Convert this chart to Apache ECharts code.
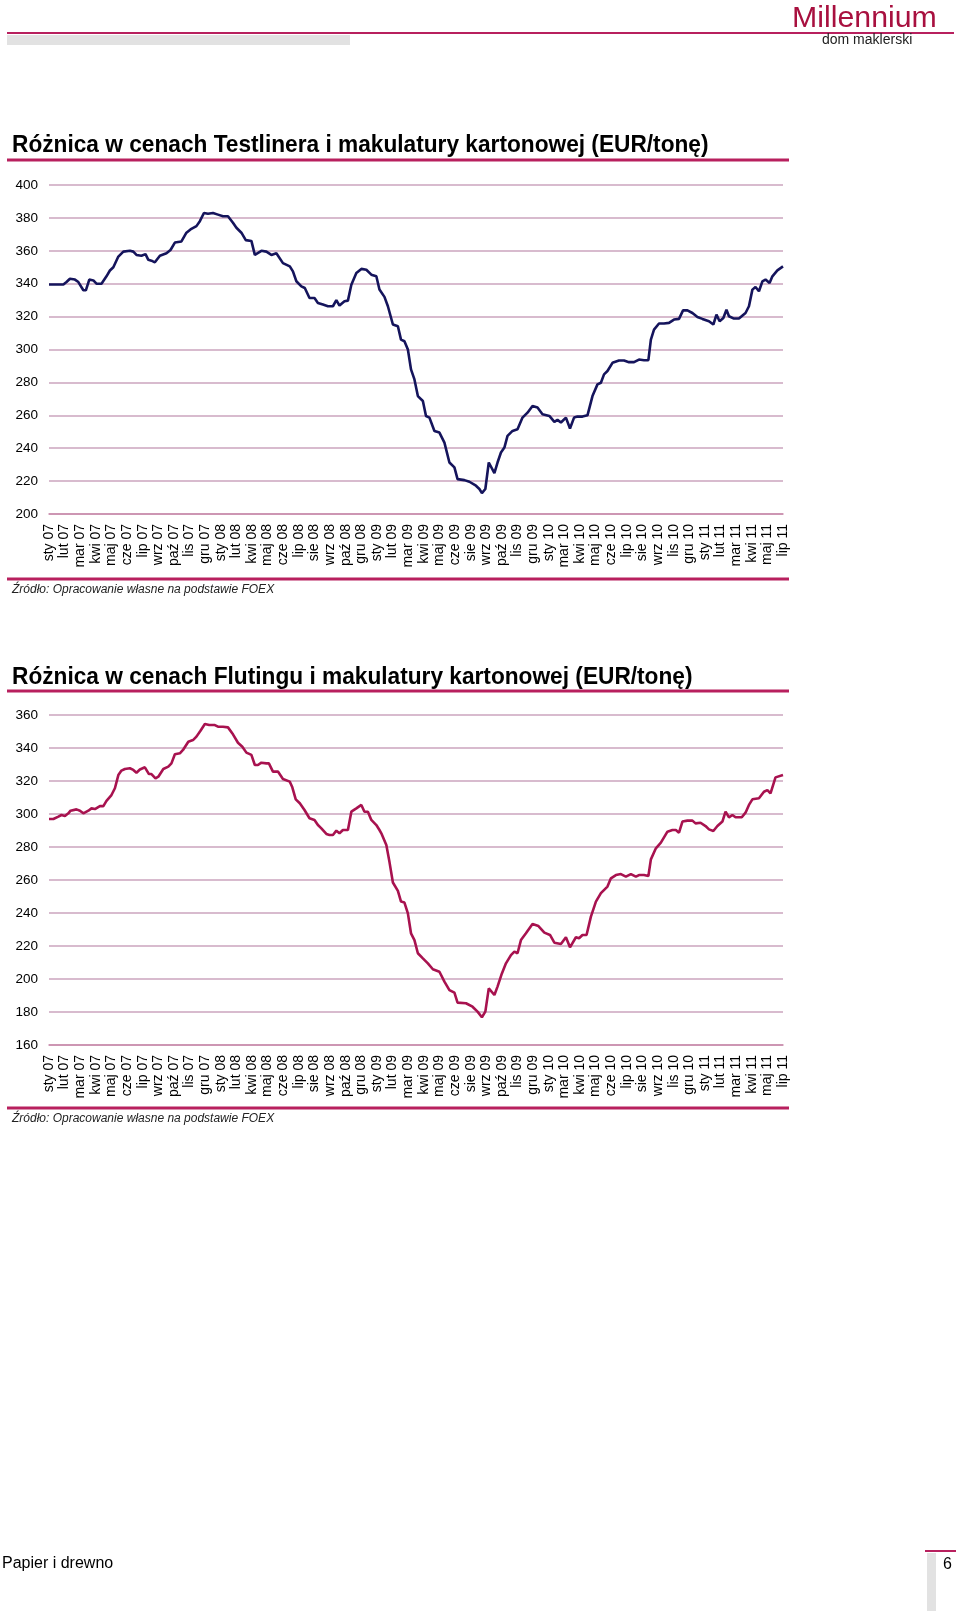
<!DOCTYPE html>
<html><head><meta charset="utf-8">
<script src="https://cdn.jsdelivr.net/npm/echarts@6/dist/echarts.min.js"></script>
<style>html,body{margin:0;padding:0;background:#fff}#c{width:960px;height:1611px}</style>
</head><body><div id="c"></div>
<script>
// Category labels shown every 5th week
const xLabels = ['sty 07','lut 07','mar 07','kwi 07','maj 07','cze 07','lip 07','wrz 07','paź 07','lis 07','gru 07',
 'sty 08','lut 08','kwi 08','maj 08','cze 08','lip 08','sie 08','wrz 08','paź 08','gru 08',
 'sty 09','lut 09','mar 09','kwi 09','maj 09','cze 09','sie 09','wrz 09','paź 09','lis 09','gru 09',
 'sty 10','mar 10','kwi 10','maj 10','cze 10','lip 10','sie 10','wrz 10','lis 10','gru 10',
 'sty 11','lut 11','mar 11','kwi 11','maj 11','lip 11'];
const title1 = 'Różnica w cenach Testlinera i makulatury kartonowej (EUR/tonę)';
const title2 = 'Różnica w cenach Flutingu i makulatury kartonowej (EUR/tonę)';
const sourceText = 'Źródło: Opracowanie własne na podstawie FOEX';
const yRange1 = [200, 400, 20];
const yRange2 = [160, 360, 20];
// [week index, EUR/t]
const testliner = [[0,339.5],[4.6,339.5],[5.6,341],[6.7,343],[8.3,342.5],[9.4,341],[9.9,340.5],[11,336],[11.8,336],[12.9,342.5],[14.2,342],[15.2,340],[16.8,340],[18.4,344.5],[19.5,348],[20.6,350],[22.2,356.5],[23.8,359.5],[25.9,360],[27,359.5],[28,357.5],[29.6,357],[30.9,358],[31.8,354.5],[32.8,354],[33.9,353],[34.4,353.5],[35.5,357],[37.6,358.5],[38.9,360.5],[40.3,365],[42.4,365.7],[44,371],[45.3,373],[47.2,375],[48.3,378],[49.6,383],[50.9,382.5],[52.5,383],[54.1,382],[55.7,381],[57.3,381],[58.9,377],[60,374],[61.6,371],[63,366.5],[64.8,366],[65.9,357.5],[68,360],[69.6,359.5],[71.2,357.5],[72.8,358.5],[74.9,352.5],[77.1,350.5],[78.1,347.5],[79.2,341.5],[80.8,338.4],[81.9,337.4],[83.4,331.3],[85,331.3],[86.1,328.3],[87.7,327.3],[89.3,326.3],[90.9,326.3],[92,330],[93,326.7],[94.6,329.3],[95.7,329.7],[96.8,339.4],[98.4,346.5],[100,349],[101.6,348.5],[103.2,345.5],[104.8,344.5],[105.8,336.5],[107.4,332],[108.5,326.3],[110.1,315.2],[111.7,314.1],[112.7,306],[113.8,305],[114.9,300],[115.9,287.9],[117,281.8],[118.1,271.7],[119.7,268.7],[120.7,259.6],[121.8,258.6],[123.4,250.5],[125,249.5],[126.6,243.4],[128.2,231.3],[129.8,228.3],[130.8,221.2],[133,220.6],[134.6,219.6],[136.7,217.2],[137.8,215.2],[138.6,212.7],[139.7,215.2],[140.8,231.3],[142.6,224.9],[143.6,231.3],[144.7,237.4],[145.8,240.4],[146.8,247.5],[148.4,250.5],[150,251.5],[151.6,258.6],[153.2,261.6],[154.8,265.7],[156.4,264.7],[158,260.6],[160.2,259.6],[161.8,256],[162.8,257.2],[163.9,255.6],[165.5,258.6],[166.8,252],[168.1,258.6],[169.2,259.2],[170.8,259.2],[172.4,260],[174,271.7],[175.6,278.8],[176.7,279.8],[177.7,284.9],[178.8,286.9],[180.4,291.9],[182.5,293.3],[184.1,293.3],[185.7,292.3],[187.3,292.3],[188.9,293.9],[190.5,293.5],[191.9,293.5],[192.7,306],[193.7,312.1],[195.3,315.8],[196.9,315.8],[198.5,316.2],[200.1,318.2],[201.7,318.6],[203,323.8],[204.4,323.8],[206,322.2],[207.6,319.8],[209.2,318.6],[211.3,317.2],[212.7,315.2],[213.7,321.2],[214.7,317.2],[215.9,319.2],[216.9,324.2],[217.7,320.2],[219.3,318.8],[220.9,318.8],[223,322.2],[224.1,326.3],[225.2,336.4],[226.2,338],[227.3,335.4],[228.4,341.4],[229.4,342.5],[230.7,340.4],[231.6,344.5],[233.2,348.1],[235,350.5]];
const fluting = [[0,297],[1.4,297],[3,298.4],[4,299.4],[5.1,298.8],[6.2,300.4],[6.9,302],[8.8,302.8],[9.9,302],[11,300.4],[12.6,302],[13.6,303.4],[14.7,303],[16.3,304.8],[17.4,304.8],[18.4,308],[20,311.5],[21.1,315.6],[22.2,323.6],[23.2,326.3],[24.3,327.3],[25.9,327.7],[27,326.7],[28,325],[29.1,327],[30.7,328.3],[32,324.2],[32.8,324.2],[34.1,321.6],[35,322.6],[36.6,327.3],[38.2,328.7],[39.2,330.7],[40.3,336.2],[41.9,336.8],[42.9,338.8],[44.6,343.8],[46.1,344.8],[47.2,346.9],[48.5,350.5],[49.9,354.5],[51.3,353.9],[53.1,353.9],[54.1,352.9],[55.7,352.9],[57.3,352.5],[58.9,348.3],[60.5,343.2],[61.9,340.8],[63.2,337.2],[64.8,335.8],[65.9,329.7],[66.9,329.7],[68,331.1],[69.6,330.7],[70.4,330.7],[71.7,325.7],[73.3,325.7],[74.9,321.2],[77.1,319.6],[77.9,316.2],[79,308.9],[80.3,306.5],[81.8,302.4],[83.4,297.4],[85,296.4],[86.1,293.3],[87.2,291.3],[88.8,287.9],[89.8,287.3],[90.9,287.3],[92,289.9],[93,288.3],[94.1,290.3],[95.7,290.3],[96.8,301.4],[98.4,303.4],[100,305.5],[101,301.4],[102.1,301.4],[103.2,296.4],[104.8,293.3],[105.8,290.3],[106.4,288.3],[108,281.2],[109,271],[110.1,258.5],[111.7,253.4],[112.7,246.9],[113.8,246.3],[114.9,239.8],[115.9,227.7],[117,223.6],[118.1,215.6],[119.7,212.5],[121.3,209.5],[122.9,205.9],[125,204.4],[126.6,198.4],[128.2,193.3],[129.8,191.7],[130.8,185.7],[133.5,185.3],[135.6,183.2],[137.2,180.2],[138.6,176.8],[139.7,180.2],[140.8,194.3],[142.6,190.3],[143.6,195.4],[145,203.4],[146.3,209.5],[147.9,214.5],[149,216.6],[150,215.6],[151.1,223.6],[152.7,227.7],[154.8,233.3],[156.7,232.1],[158.6,228.1],[160.4,226.7],[161.8,222],[163.9,221.2],[165.5,225.3],[166.8,219.2],[168.7,225.3],[169.7,224.7],[170.8,226.7],[172.1,226.7],[173.5,237.8],[175.1,246.9],[176.7,252],[178.8,256],[179.9,261],[181.5,263],[183.1,263.6],[184.7,262],[186.3,263.6],[187.9,262],[188.9,263],[190.5,263],[191.9,262.4],[192.7,272.5],[194.3,279.2],[195.9,282.6],[198,289.3],[199.6,290.3],[200.7,290.3],[201.7,288.7],[202.8,295.4],[204.4,296],[206,296],[207,294.3],[208.6,294.7],[210.2,292.7],[211.3,290.7],[212.7,289.7],[214,292.7],[215.6,295.4],[216.6,301.4],[217.7,298],[218.8,299.4],[219.8,298],[221.8,298],[223,300.8],[224.1,305.5],[225.2,308.9],[227.3,309.5],[228.9,313.5],[230,314.5],[231,312.5],[232.6,322.2],[235,323.6]];

const PINK = '#b8205e', GRID = '#cba5be', GRAY = '#e2e2e2';
const FONT = '"Liberation Sans", Arial, sans-serif';
const lastWeek = (xLabels.length - 1) * 5;

function xAxisFor(i) {
  return {
    type: 'value', gridIndex: i, min: 0, max: lastWeek, interval: 5,
    axisLine: { show: true, onZero: false, lineStyle: { color: '#c98aab', width: 1.5 } },
    axisTick: { show: false }, splitLine: { show: false },
    axisLabel: { rotate: 90, fontSize: 14, color: '#000', margin: 10, fontFamily: FONT,
      showMinLabel: true, showMaxLabel: true, hideOverlap: false,
      formatter: v => xLabels[Math.round(v / 5)] || '' }
  };
}
function yAxisFor(i, r) {
  return {
    type: 'value', gridIndex: i, min: r[0], max: r[1], interval: r[2],
    axisLine: { show: false }, axisTick: { show: false },
    splitLine: { lineStyle: { color: GRID, width: 1.5 } },
    axisLabel: { fontSize: 13.5, color: '#000', margin: 11, fontFamily: FONT }
  };
}
function hline(x1, x2, y, w, c) {
  return { type: 'line', shape: { x1, y1: y, x2, y2: y }, style: { stroke: c, lineWidth: w }, silent: true };
}
function txt(x, y, text, font, fill, extra) {
  return Object.assign({ type: 'text', x, y, style: { text, x: 0, y: 0, font, fill,
    textAlign: 'left', align: 'left', textVerticalAlign: 'middle', verticalAlign: 'middle' }, silent: true }, extra || {});
}

const chart = echarts.init(document.getElementById('c'), null, { renderer: 'canvas' });
chart.setOption({
  animation: false,
  backgroundColor: '#fff',
  grid: [
    { left: 49, top: 185, width: 734, height: 329 },
    { left: 49, top: 715, width: 734, height: 330 }
  ],
  xAxis: [xAxisFor(0), xAxisFor(1)],
  yAxis: [yAxisFor(0, yRange1), yAxisFor(1, yRange2)],
  series: [
    { type: 'line', xAxisIndex: 0, yAxisIndex: 0, data: testliner, symbol: 'none', smooth: false,
      lineStyle: { color: '#15145c', width: 2.6 } },
    { type: 'line', xAxisIndex: 1, yAxisIndex: 1, data: fluting, symbol: 'none', smooth: false,
      lineStyle: { color: '#a8124f', width: 2.6 } }
  ],
  graphic: [
    hline(7, 954, 33, 2, PINK),
    { type: 'rect', shape: { x: 7, y: 35, width: 343, height: 10 }, style: { fill: GRAY }, silent: true },
    txt(792, 19, 'Millennium', '30px ' + FONT, '#a8103f', { scaleX: 1.01 }),
    txt(822, 40, 'dom maklerski', '14px ' + FONT, '#222'),
    txt(12, 145, title1, 'bold 24px ' + FONT, '#000', { scaleX: 0.945 }),
    hline(7, 789, 160, 3, PINK),
    hline(7, 789, 579, 3, PINK),
    txt(12, 590, sourceText, 'italic 12px ' + FONT, '#222'),
    txt(12, 677, title2, 'bold 24px ' + FONT, '#000', { scaleX: 0.945 }),
    hline(7, 789, 691, 3, PINK),
    hline(7, 789, 1108, 3, PINK),
    txt(12, 1119, sourceText, 'italic 12px ' + FONT, '#222'),
    txt(2, 1564, 'Papier i drewno', '16px ' + FONT, '#000'),
    hline(925, 956, 1551, 2, PINK),
    { type: 'rect', shape: { x: 927, y: 1553, width: 9, height: 58 }, style: { fill: GRAY }, silent: true },
    txt(943, 1565, '6', '16px ' + FONT, '#000')
  ]
});
</script></body></html>
